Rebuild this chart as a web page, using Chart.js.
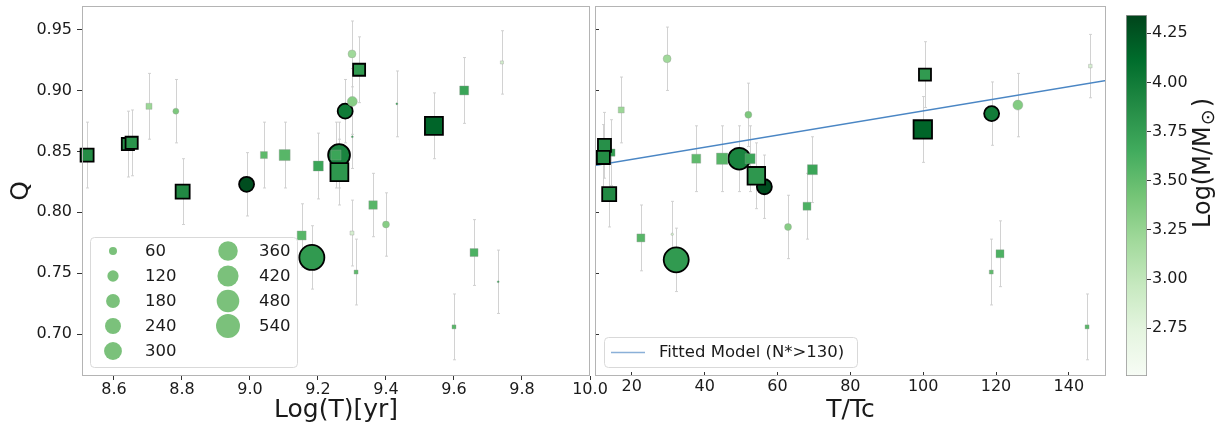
<!DOCTYPE html>
<html>
<head>
<meta charset="utf-8">
<title>Q parameter vs age and T/Tc</title>
<script src="https://cdn.jsdelivr.net/npm/chart.js@4.4.1/dist/chart.umd.min.js"></script>
<style>
  html, body { margin: 0; padding: 0; background: #fff; }
  #figure { position: relative; width: 1230px; height: 429px; overflow: hidden; }
  #figure canvas { position: absolute; top: 0; }
</style>
</head>
<body>
<div id="figure">
  <canvas id="ageChart" width="620" height="429" style="left:0"></canvas>
  <canvas id="tcChart" width="560" height="429" style="left:560px"></canvas>
  <canvas id="massBar" width="130" height="429" style="left:1100px"></canvas>
</div>
<script>
const FONT = '"DejaVu Sans", "Liberation Sans", sans-serif';
Chart.defaults.font.family = FONT;
Chart.defaults.color = '#1a1a1a';
Chart.defaults.animation = false;

// axis limits
const qRange = [0.6657, 0.9693];
const logTRange = [8.506, 10.0];
const tcRange = [9.9, 150.2];
const massRange = [2.507, 4.343];

// tick values
const qTicks = [0.70, 0.75, 0.80, 0.85, 0.90, 0.95];
const logTTicks = [8.6, 8.8, 9.0, 9.2, 9.4, 9.6, 9.8, 10.0];
const tcTicks = [20, 40, 60, 80, 100, 120, 140];
const massTicks = [2.75, 3.00, 3.25, 3.50, 3.75, 4.00, 4.25];

// Log(T) panel, square markers
const ageSqLogT = [8.521, 8.641, 8.652, 8.703, 8.802, 9.041, 9.102, 9.152, 9.201, 9.253, 9.263, 9.321, 9.362, 9.300, 9.312, 9.541, 9.600, 9.630, 9.659, 9.741];
const ageSqQ    = [0.847, 0.856, 0.857, 0.887, 0.817, 0.847, 0.847, 0.781, 0.838, 0.847, 0.833, 0.917, 0.806, 0.783, 0.751, 0.871, 0.706, 0.900, 0.767, 0.923];
const ageSqErr  = [0.027, 0.027, 0.027, 0.027, 0.027, 0.027, 0.027, 0.026, 0.027, 0.027, 0.027, 0.027, 0.026, 0.027, 0.027, 0.027, 0.027, 0.027, 0.027, 0.026];
const ageSqN    = [160, 140, 140, 34, 185, 46, 114, 76, 94, 94, 300, 136, 68, 15, 15, 305, 15, 76, 60, 9];
const ageSqMass = [3.88, 3.85, 3.82, 3.22, 3.90, 3.52, 3.55, 3.55, 3.70, 3.70, 3.80, 3.78, 3.55, 2.85, 3.52, 4.16, 3.55, 3.70, 3.60, 2.88];

// Log(T) panel, circle markers
const ageCiLogT = [8.782, 8.990, 9.182, 9.262, 9.280, 9.300, 9.301, 9.301, 9.400, 9.432, 9.730];
const ageCiQ    = [0.883, 0.823, 0.763, 0.847, 0.883, 0.930, 0.891, 0.862, 0.790, 0.889, 0.743];
const ageCiErr  = [0.026, 0.026, 0.026, 0.027, 0.026, 0.027, 0.027, 0.026, 0.026, 0.027, 0.026];
const ageCiN    = [34, 212, 590, 450, 212, 60, 94, 4, 46, 4, 4];
const ageCiMass = [3.38, 4.29, 3.78, 3.94, 4.01, 3.20, 3.33, 3.70, 3.33, 3.70, 3.70];

// T/Tc panel, square markers
const tcSqT    = [14.4, 12.5, 12.2, 13.8, 17.1, 22.5, 37.7, 44.8, 52.5, 54.2, 68.1, 69.6, 99.9, 100.5, 118.7, 121.1, 145.0, 145.9];
const tcSqQ    = [0.849, 0.855, 0.845, 0.815, 0.884, 0.779, 0.844, 0.844, 0.844, 0.830, 0.805, 0.835, 0.868, 0.913, 0.751, 0.766, 0.706, 0.920];
const tcSqErr  = [0.027, 0.027, 0.027, 0.027, 0.027, 0.027, 0.027, 0.027, 0.027, 0.027, 0.027, 0.027, 0.027, 0.027, 0.027, 0.027, 0.027, 0.026];
const tcSqN    = [50, 160, 160, 185, 34, 60, 76, 120, 94, 290, 60, 94, 320, 136, 15, 60, 15, 12];
const tcSqMass = [3.75, 3.85, 3.88, 3.90, 3.22, 3.55, 3.52, 3.55, 3.70, 3.80, 3.60, 3.70, 4.16, 3.78, 3.52, 3.60, 3.55, 2.85];

// T/Tc panel, circle markers
const tcCiT    = [29.7, 31.1, 32.2, 49.5, 52.0, 56.4, 62.9, 118.8, 126.0];
const tcCiQ    = [0.926, 0.782, 0.761, 0.844, 0.880, 0.821, 0.788, 0.881, 0.888];
const tcCiErr  = [0.026, 0.027, 0.026, 0.027, 0.026, 0.026, 0.026, 0.026, 0.026];
const tcCiN    = [60, 6, 590, 450, 46, 212, 46, 212, 94];
const tcCiMass = [3.20, 2.90, 3.78, 3.94, 3.38, 4.29, 3.33, 4.00, 3.35];

// linear fit for clusters with N* > 130
const fitT = [0, 155];
const fitQ = [0.8335, 0.9105];

// marker size key
const legendCounts = [60, 120, 180, 240, 300, 360, 420, 480, 540];

// matplotlib "Greens"
const greensStops = ['#f7fcf5', '#e5f5e0', '#c7e9c0', '#a1d99b', '#74c476', '#41ab5d', '#238b45', '#006d2c', '#00441b'];

function hexToRgb(h) {
  const n = parseInt(h.slice(1), 16);
  return [(n >> 16) & 255, (n >> 8) & 255, n & 255];
}

function greens(v) {
  let f = (v - massRange[0]) / (massRange[1] - massRange[0]);
  f = Math.min(1, Math.max(0, f)) * (greensStops.length - 1);
  const i = Math.min(Math.floor(f), greensStops.length - 2);
  const t = f - i;
  const a = hexToRgb(greensStops[i]), b = hexToRgb(greensStops[i + 1]);
  const c = a.map((ch, k) => Math.round(ch + (b[k] - ch) * t));
  return `rgb(${c[0]},${c[1]},${c[2]})`;
}

// marker area scales with N: circle diameter / square side ~ sqrt(N) px
function markerRadius(n, style) {
  const d = 1.03 * Math.sqrt(n);
  return style === 'rect' ? d * Math.SQRT1_2 : d / 2;
}

function markerSet(xs, qs, errs, ns, masses, style) {
  return {
    type: 'scatter',
    data: xs.map((x, i) => ({ x: x, y: qs[i] })),
    qErr: errs,
    pointStyle: style,
    pointRadius: ns.map(n => markerRadius(n, style)),
    pointBackgroundColor: masses.map(greens),
    pointBorderColor: ns.map(n => n > 130 ? '#000' : 'rgba(150,150,150,0.6)'),
    pointBorderWidth: ns.map(n => n > 130 ? 1.8 : 0.6),
    showLine: false,
    clip: false,
    order: style === 'rect' ? 0 : 1
  };
}

// vertical Q error bars with small caps, under the markers
const errorBars = {
  id: 'errorBars',
  beforeDatasetsDraw(chart) {
    const { ctx, chartArea: a, scales: { x, y } } = chart;
    ctx.save();
    ctx.beginPath();
    ctx.rect(a.left, a.top, a.width, a.height);
    ctx.clip();
    ctx.strokeStyle = 'rgba(205,205,205,0.9)';
    ctx.lineWidth = 1;
    chart.data.datasets.forEach(ds => {
      if (!ds.qErr) return;
      ds.data.forEach((p, i) => {
        const px = Math.round(x.getPixelForValue(p.x)) + 0.5;
        const y1 = y.getPixelForValue(p.y - ds.qErr[i]);
        const y2 = y.getPixelForValue(p.y + ds.qErr[i]);
        ctx.beginPath();
        ctx.moveTo(px, y1); ctx.lineTo(px, y2);
        ctx.moveTo(px - 1.5, y1); ctx.lineTo(px + 1.5, y1);
        ctx.moveTo(px - 1.5, y2); ctx.lineTo(px + 1.5, y2);
        ctx.stroke();
      });
    });
    ctx.restore();
  }
};

// axes box
const frame = {
  id: 'frame',
  afterDatasetsDraw(chart) {
    const { ctx, chartArea: a } = chart;
    ctx.save();
    ctx.strokeStyle = '#b4b4b4';
    ctx.lineWidth = 1;
    ctx.strokeRect(a.left + 0.5, a.top + 0.5, a.width - 1, a.height - 1);
    ctx.restore();
  }
};

function legendBox(ctx, x, y, w, h) {
  ctx.beginPath();
  ctx.roundRect(x + 0.5, y + 0.5, w, h, 4);
  ctx.fillStyle = 'rgba(255,255,255,0.85)';
  ctx.fill();
  ctx.strokeStyle = '#d9d9d9';
  ctx.lineWidth = 1;
  ctx.stroke();
}

// two-column key of marker sizes
const sizeLegend = {
  id: 'sizeLegend',
  afterDraw(chart) {
    const { ctx, chartArea: a } = chart;
    const bx = a.left + 8, by = a.bottom - 139;
    ctx.save();
    legendBox(ctx, bx, by, 207, 130);
    ctx.font = '16.5px ' + FONT;
    ctx.textBaseline = 'middle';
    legendCounts.forEach((n, i) => {
      const col = i < 5 ? 0 : 1;
      const row = col ? i - 5 : i;
      const my = by + 14 + row * 25;
      ctx.beginPath();
      ctx.arc(bx + (col ? 138 : 23), my, markerRadius(n, 'circle'), 0, Math.PI * 2);
      ctx.fillStyle = '#7bc17b';
      ctx.fill();
      ctx.fillStyle = '#1a1a1a';
      ctx.fillText(String(n), bx + (col ? 169 : 55), my + 1);
    });
    ctx.restore();
  }
};

const fitLegend = {
  id: 'fitLegend',
  afterDraw(chart) {
    const { ctx, chartArea: a } = chart;
    const bx = a.left + 9, by = a.bottom - 39;
    ctx.save();
    legendBox(ctx, bx, by, 253, 30);
    ctx.strokeStyle = '#8ab0d8';
    ctx.lineWidth = 1.3;
    ctx.beginPath();
    ctx.moveTo(bx + 7, by + 15.5);
    ctx.lineTo(bx + 41, by + 15.5);
    ctx.stroke();
    ctx.font = '16.5px ' + FONT;
    ctx.textBaseline = 'middle';
    ctx.fillStyle = '#1a1a1a';
    ctx.fillText('Fitted Model (N*>130)', bx + 55, by + 16);
    ctx.restore();
  }
};

function qAxis(withLabels) {
  return {
    type: 'linear',
    min: qRange[0],
    max: qRange[1],
    afterBuildTicks: s => { s.ticks = qTicks.map(v => ({ value: v })); },
    afterFit: s => { s.width = withLabels ? 82 : 35; s.paddingTop = 0; s.paddingBottom = 0; },
    grid: { drawOnChartArea: false, tickLength: withLabels ? 5 : -4, tickColor: '#333', tickWidth: 1 },
    border: { display: false },
    ticks: { display: withLabels, padding: 5, font: { size: 16 }, callback: v => v.toFixed(2) },
    title: { display: withLabels, text: 'Q', font: { size: 25 }, padding: { top: 6, bottom: 0 } }
  };
}

function xAxis(range, tickVals, label, tickLen, pad, digits) {
  return {
    type: 'linear',
    position: 'bottom',
    min: range[0],
    max: range[1],
    afterBuildTicks: s => { s.ticks = tickVals.map(v => ({ value: v })); },
    afterFit: s => { s.height = 53; s.paddingLeft = 0; s.paddingRight = 0; },
    grid: { drawOnChartArea: false, tickLength: tickLen, tickColor: '#333', tickWidth: 1 },
    border: { display: false },
    ticks: { padding: pad, font: { size: 16 }, maxRotation: 0, autoSkip: false, callback: v => v.toFixed(digits) },
    title: { display: true, text: label, font: { size: 25 }, padding: { top: 0, bottom: 4 } }
  };
}

const baseOptions = {
  responsive: false,
  animation: false,
  events: [],
  plugins: { legend: { display: false }, tooltip: { enabled: false } }
};

new Chart(document.getElementById('ageChart'), {
  type: 'scatter',
  data: {
    datasets: [
      markerSet(ageSqLogT, ageSqQ, ageSqErr, ageSqN, ageSqMass, 'rect'),
      markerSet(ageCiLogT, ageCiQ, ageCiErr, ageCiN, ageCiMass, 'circle')
    ]
  },
  options: {
    ...baseOptions,
    layout: { padding: { top: 6, right: 30, left: 0, bottom: 0 }, autoPadding: false },
    scales: {
      x: xAxis(logTRange, logTTicks, 'Log(T)[yr]', 4, 0, 1),
      y: qAxis(true)
    }
  },
  plugins: [errorBars, frame, sizeLegend]
});

new Chart(document.getElementById('tcChart'), {
  type: 'scatter',
  data: {
    datasets: [
      markerSet(tcSqT, tcSqQ, tcSqErr, tcSqN, tcSqMass, 'rect'),
      markerSet(tcCiT, tcCiQ, tcCiErr, tcCiN, tcCiMass, 'circle'),
      {
        type: 'line',
        data: fitT.map((t, i) => ({ x: t, y: fitQ[i] })),
        borderColor: '#4a86c4',
        borderWidth: 1.4,
        pointRadius: 0,
        fill: false,
        tension: 0,
        order: 2
      }
    ]
  },
  options: {
    ...baseOptions,
    layout: { padding: { top: 6, right: 14, left: 0, bottom: 0 }, autoPadding: false },
    scales: {
      x: xAxis(tcRange, tcTicks, 'T/Tc', -4, 5, 0),
      y: qAxis(false)
    }
  },
  plugins: [errorBars, frame, fitLegend]
});

// colour bar for Log(M/M_sun)
const colorbar = {
  id: 'colorbar',
  beforeDatasetsDraw(chart) {
    const { ctx, chartArea: a, scales: { y } } = chart;
    const g = ctx.createLinearGradient(0, y.getPixelForValue(massRange[0]), 0, y.getPixelForValue(massRange[1]));
    greensStops.forEach((c, i) => g.addColorStop(i / (greensStops.length - 1), c));
    ctx.save();
    ctx.fillStyle = g;
    ctx.fillRect(a.left, a.top, a.width, a.height);
    ctx.strokeStyle = '#9a9a9a';
    ctx.lineWidth = 0.8;
    ctx.strokeRect(a.left + 0.4, a.top + 0.4, a.width - 0.8, a.height - 0.8);
    ctx.restore();
  },
  afterDraw(chart) {
    const { ctx } = chart;
    const main = 'Log(M/M', sub = '\u2299', close = ')';
    ctx.save();
    ctx.translate(104, 163);
    ctx.rotate(-Math.PI / 2);
    ctx.fillStyle = '#1a1a1a';
    ctx.textBaseline = 'middle';
    ctx.font = '24px ' + FONT;
    const w1 = ctx.measureText(main).width, w3 = ctx.measureText(close).width;
    ctx.font = '19px ' + FONT;
    const w2 = ctx.measureText(sub).width;
    const total = w1 + w2 + w3 + 3;
    let x = -total / 2;
    ctx.font = '24px ' + FONT;
    ctx.fillText(main, x, 0);
    x += w1 + 1;
    ctx.font = '19px ' + FONT;
    ctx.fillText(sub, x, 5);
    x += w2 + 2;
    ctx.font = '24px ' + FONT;
    ctx.fillText(close, x, 0);
    ctx.restore();
  }
};

new Chart(document.getElementById('massBar'), {
  type: 'scatter',
  data: { datasets: [] },
  options: {
    ...baseOptions,
    layout: { padding: { top: 15, right: 0, left: 26, bottom: 53 }, autoPadding: false },
    scales: {
      x: { type: 'linear', display: false, min: 0, max: 1 },
      y: {
        type: 'linear',
        position: 'right',
        min: massRange[0],
        max: massRange[1],
        afterBuildTicks: s => { s.ticks = massTicks.map(v => ({ value: v })); },
        afterFit: s => { s.width = 83; s.paddingTop = 0; s.paddingBottom = 0; },
        grid: { drawOnChartArea: false, tickLength: 4, tickColor: '#333', tickWidth: 1 },
        border: { display: false },
        ticks: { padding: 1, font: { size: 16 }, callback: v => v.toFixed(2) }
      }
    }
  },
  plugins: [colorbar]
});
</script>
</body>
</html>
